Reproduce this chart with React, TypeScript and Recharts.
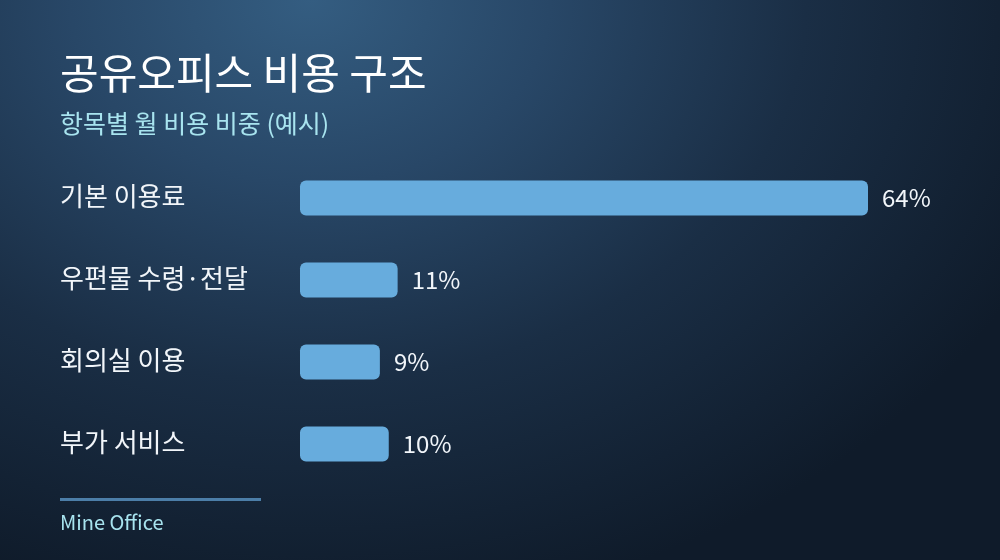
import React from 'react';
import { BarChart, Bar, XAxis, YAxis, LabelList } from 'recharts';

const categories = ['기본 이용료', '우편물 수령·전달', '회의실 이용', '부가 서비스'];
const shares = [64, 11, 9, 10];

const chartData = categories.map((name, i) => ({ name, value: shares[i] }));

const FONT = '"Noto Sans CJK KR", "Noto Sans", sans-serif';

const CategoryTick = (props: any) => {
  const { y, payload } = props;
  return (
    <text x={60} y={y} dy={8} textAnchor="start" fill="#f2f6fa" fontSize={26} fontFamily={FONT}>
      {payload.value}
    </text>
  );
};

const App: React.FC = () => {
  return (
    <div
      style={{
        position: 'fixed',
        top: 0,
        left: 0,
        width: 1000,
        height: 560,
        overflow: 'hidden',
        fontFamily: FONT,
        background:
          'radial-gradient(ellipse 80% 110% at 31% 0%, #345d81 0%, #284767 30%, #1a2e45 62%, #0f1b2a 100%)',
      }}
    >
      <div
        style={{
          position: 'absolute',
          left: 60,
          top: 49,
          fontSize: 42,
          lineHeight: '44px',
          fontWeight: 400,
          color: '#ffffff',
        }}
      >
        공유오피스 비용 구조
      </div>
      <div
        style={{
          position: 'absolute',
          left: 60,
          top: 108,
          fontSize: 25,
          lineHeight: '28px',
          color: '#a8e4ef',
        }}
      >
        항목별 월 비용 비중 (예시)
      </div>

      <div style={{ position: 'absolute', left: 0, top: 0 }}>
        <BarChart
          width={1000}
          height={560}
          data={chartData}
          layout="vertical"
          margin={{ top: 156.5, right: 61, bottom: 75.5, left: 0 }}
        >
          <XAxis type="number" domain={[0, 72]} hide />
          <YAxis
            type="category"
            dataKey="name"
            width={300}
            axisLine={false}
            tickLine={false}
            tick={<CategoryTick />}
          />
          <Bar dataKey="value" fill="#67acdd" barSize={35} radius={6} isAnimationActive={false}>
            <LabelList
              dataKey="value"
              position="right"
              offset={14}
              fill="#f2f6fa"
              fontSize={24}
              fontFamily={FONT}
              formatter={(v: any) => `${v}%`}
            />
          </Bar>
        </BarChart>
      </div>

      <div
        style={{
          position: 'absolute',
          left: 60,
          top: 498,
          width: 201,
          height: 3,
          background: '#4c7ea8',
        }}
      />
      <div
        style={{
          position: 'absolute',
          left: 60,
          top: 510,
          fontSize: 20,
          lineHeight: '24px',
          color: '#a8e4ef',
        }}
      >
        Mine Office
      </div>
    </div>
  );
};

export default App;
